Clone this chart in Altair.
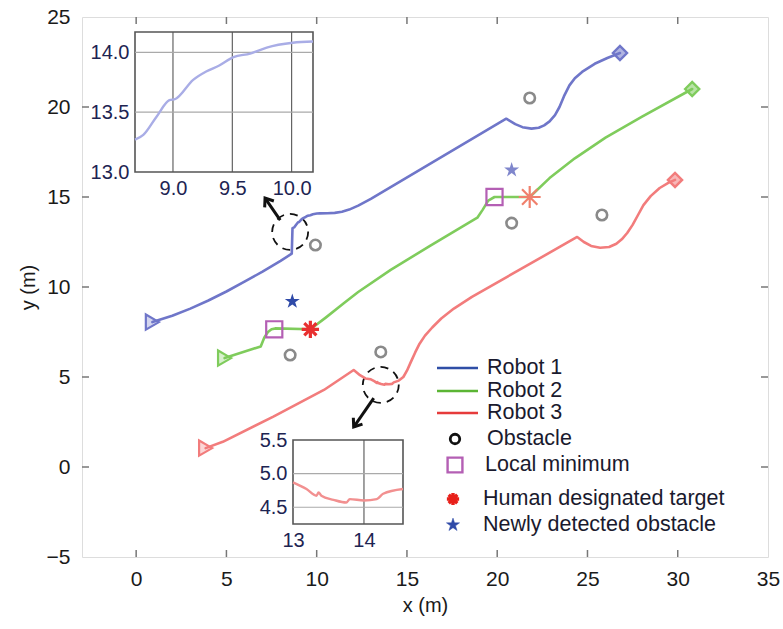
import math
import altair as alt
import pandas as pd

# ---------------- data ----------------
X_DOMAIN = [-3, 35]
Y_DOMAIN = [-5, 25]
X_TICKS = [0, 5, 10, 15, 20, 25, 30, 35]
Y_TICKS = [-5, 0, 5, 10, 15, 20, 25]

ROBOTS = ["Robot 1", "Robot 2", "Robot 3"]

R1_X = [0.9, 2.0, 3.0, 4.0, 5.0, 6.0, 7.0, 8.0, 8.62, 8.66, 8.75, 8.86, 8.97, 9.02, 9.17,
        9.28, 9.39, 9.51, 9.65, 9.79, 10.01, 10.18, 10.6, 11.0, 11.4, 11.8, 12.3, 13.0, 20.5,
        21.0, 21.4, 21.9, 22.3, 22.6, 22.9, 23.2, 23.45, 23.7, 24.0, 24.3, 24.7, 25.4, 26.1, 26.8]
R1_Y = [8.05, 8.4, 8.8, 9.25, 9.75, 10.3, 10.85, 11.45, 11.85, 13.27, 13.31, 13.46, 13.6, 13.61, 13.77,
        13.84, 13.89, 13.96, 13.99, 14.04, 14.08, 14.09, 14.1, 14.12, 14.18, 14.3, 14.52, 14.9, 19.35,
        19.05, 18.88, 18.8, 18.85, 18.98, 19.2, 19.55, 20.0, 20.6, 21.2, 21.6, 21.95, 22.4, 22.72, 23.0]

R2_X = [4.9, 6.9, 7.1, 7.3, 7.5, 7.7, 9.65, 10.5, 11.5, 12.3, 14.1, 16.3, 18.9, 19.2, 19.5, 19.85,
        21.8, 22.9, 24.3, 26.0, 28.0, 30.8]
R2_Y = [6.05, 6.7, 7.2, 7.5, 7.65, 7.7, 7.65, 8.3, 9.1, 9.72, 10.95, 12.3, 13.85, 14.3, 14.8, 15.0,
        15.0, 16.05, 17.15, 18.3, 19.45, 21.0]

R3_X = [3.85, 4.8, 7.6, 10.4, 12.05, 12.4, 12.7, 13.0, 13.19, 13.33, 13.36, 13.4, 13.57, 13.75, 13.8,
        14.0, 14.18, 14.27, 14.55, 14.8, 15.0, 15.2, 15.45, 15.7, 16.0, 16.4, 16.9, 17.6, 18.6, 24.43,
        24.8, 25.2, 25.7, 26.2, 26.6, 26.9, 27.2, 27.5, 27.8, 28.1, 28.5, 29.0, 29.5, 29.85]
R3_Y = [1.05, 1.4, 2.8, 4.28, 5.39, 5.1, 4.92, 4.87, 4.77, 4.67, 4.72, 4.67, 4.61, 4.57, 4.62,
        4.6, 4.62, 4.7, 4.8, 5.0, 5.35, 5.8, 6.35, 6.85, 7.3, 7.75, 8.25, 8.8, 9.45, 12.78,
        12.5, 12.28, 12.18, 12.22, 12.4, 12.65, 13.0, 13.45, 14.0, 14.55, 15.05, 15.5, 15.8, 15.95]

START_X = [0.9, 4.9, 3.85]
START_Y = [8.05, 6.05, 1.05]
END_X = [26.8, 30.8, 29.85]
END_Y = [23.0, 21.0, 15.95]

OBST_X = [9.93, 8.53, 13.55, 20.8, 21.8, 25.8]
OBST_Y = [12.33, 6.22, 6.39, 13.55, 20.5, 14.0]

LOCMIN_X = [7.65, 19.85]
LOCMIN_Y = [7.65, 15.0]

TARGET_X = [9.65, 21.8]
TARGET_Y = [7.65, 15.0]

NEWOBS_X = [8.65, 20.8]
NEWOBS_Y = [9.2, 16.5]

ZOOM_X = [8.53, 13.55]
ZOOM_Y = [13.06, 4.56]
ARROW_TAIL_X = [7.98, 13.16]
ARROW_TAIL_Y = [13.72, 3.83]
ARROW_HEAD_X = [7.14, 12.05]
ARROW_HEAD_Y = [14.94, 2.22]

# inset 1 (robot 1 detail)
IN1_XDOM = [8.68, 10.18]
IN1_YDOM = [13.0, 14.17]
IN1_XTICKS = [9.0, 9.5, 10.0]
IN1_YTICKS = [13.0, 13.5, 14.0]
IN1_X = [8.68, 8.75, 8.86, 8.97, 9.02, 9.17, 9.28, 9.39, 9.51, 9.65, 9.79, 10.01, 10.18]
IN1_Y = [13.27, 13.31, 13.46, 13.6, 13.61, 13.77, 13.84, 13.89, 13.96, 13.99, 14.04, 14.08, 14.09]

# inset 2 (robot 3 detail)
IN2_XDOM = [13.0, 14.55]
IN2_YDOM = [4.25, 5.5]
IN2_XTICKS = [13, 14]
IN2_YTICKS = [4.5, 5.0, 5.5]
IN2_X = [13.0, 13.19, 13.33, 13.36, 13.4, 13.57, 13.75, 13.8, 14.0, 14.18, 14.27, 14.55]
IN2_Y = [4.87, 4.77, 4.67, 4.72, 4.67, 4.61, 4.57, 4.62, 4.6, 4.62, 4.7, 4.77]

LEGEND_LABELS = ["Robot 1", "Robot 2", "Robot 3", "Obstacle", "Local minimum",
                 "Human designated target", "Newly detected obstacle"]

# ---------------- styles ----------------
W, H = 686, 540
FONT = "Liberation Sans"
LINE_COLORS = ["#6f76c9", "#7fcc5c", "#f27c7c"]
END_COLORS = ["#3d55b0", "#66be3c", "#e8404a"]
LEG_COLORS = ["#2f4ea6", "#5bb534", "#e63b3b"]
GRAY = "#8a8a8a"
PURPLE = "#b45fb4"

STAR = ("M0,-1L0.2245,-0.309L0.951,-0.309L0.363,0.118L0.588,0.809L0,0.382"
        "L-0.588,0.809L-0.363,0.118L-0.951,-0.309L-0.2245,-0.309Z")
ASTER = "M0,-1L0,1M-1,0L1,0M-0.7,-0.7L0.7,0.7M-0.7,0.7L0.7,-0.7"
CHEVRON = "M-0.75,1L0,0L0.75,1"

xs = alt.Scale(domain=X_DOMAIN, nice=False, zero=False)
ys = alt.Scale(domain=Y_DOMAIN, nice=False, zero=False)
x_axis = alt.Axis(values=X_TICKS, title="x (m)", grid=False, ticks=False, domain=False,
                  labelFontSize=21, labelPadding=11, titleFontSize=20, titlePadding=6,
                  titleFontWeight="normal", labelColor="#1a1a1a", titleColor="#1a1a1a", labelFont=FONT,
                  titleFont=FONT, labelFlush=False, labelOverlap=False)
y_axis = alt.Axis(values=Y_TICKS, title="y (m)", grid=False, ticks=False, domain=False,
                  labelFontSize=21, labelPadding=12, titleFontSize=20, titlePadding=8,
                  titleFontWeight="normal", labelColor="#1a1a1a", titleColor="#1a1a1a", labelFont=FONT,
                  titleFont=FONT, labelFlush=False, labelOverlap=False)


def X(field="x"):
    return alt.X(f"{field}:Q", scale=xs, axis=x_axis)


def Y(field="y"):
    return alt.Y(f"{field}:Q", scale=ys, axis=y_axis)


rows = []
for name, xx, yy in zip(ROBOTS, [R1_X, R2_X, R3_X], [R1_Y, R2_Y, R3_Y]):
    for i, (a, b) in enumerate(zip(xx, yy)):
        rows.append({"robot": name, "order": i, "x": a, "y": b})
traj = pd.DataFrame(rows)
robot_color = alt.Scale(domain=ROBOTS, range=LINE_COLORS)

lines = alt.Chart(traj).mark_line(strokeWidth=2.6, interpolate="linear",
                                  strokeJoin="round", strokeCap="round").encode(
    x=X(), y=Y(), color=alt.Color("robot:N", scale=robot_color, legend=None), order="order:Q")

starts = alt.Chart(pd.DataFrame({"robot": ROBOTS, "x": START_X, "y": START_Y})).mark_point(
    shape="triangle-right", size=230, filled=False, strokeWidth=2.2, opacity=1, fillOpacity=0.3).encode(
    x=X(), y=Y(), stroke=alt.Stroke("robot:N", scale=robot_color, legend=None),
    fill=alt.Fill("robot:N", scale=robot_color, legend=None))

end_scale = alt.Scale(domain=ROBOTS, range=END_COLORS)
ends = alt.Chart(pd.DataFrame({"robot": ROBOTS, "x": END_X, "y": END_Y})).mark_point(
    shape="diamond", size=200, filled=False, strokeWidth=2.4, opacity=1, fillOpacity=0.55).encode(
    x=X(), y=Y(), stroke=alt.Stroke("robot:N", scale=end_scale, legend=None),
    fill=alt.Fill("robot:N", scale=end_scale, legend=None))

obst = alt.Chart(pd.DataFrame({"x": OBST_X, "y": OBST_Y})).mark_point(
    shape="circle", size=110, filled=False, stroke=GRAY, strokeWidth=2.6, opacity=1).encode(x=X(), y=Y())

locmin = alt.Chart(pd.DataFrame({"x": LOCMIN_X, "y": LOCMIN_Y})).mark_point(
    shape="square", size=260, filled=False, stroke=PURPLE, strokeWidth=2.2, opacity=1).encode(x=X(), y=Y())

targ_df = pd.DataFrame({"x": TARGET_X, "y": TARGET_Y, "c": ["#e83030", "#f0806c"],
                        "s": [300, 480], "w": [3.2, 2.2]})
targets = alt.Chart(targ_df).mark_point(shape=ASTER, filled=False, opacity=1).encode(
    x=X(), y=Y(), stroke=alt.Stroke("c:N", scale=None), size=alt.Size("s:Q", scale=None),
    strokeWidth=alt.StrokeWidth("w:Q", scale=None))

newobs = alt.Chart(pd.DataFrame({"x": NEWOBS_X, "y": NEWOBS_Y, "c": ["#2f4aa8", "#7f86cc"]})).mark_point(
    shape=STAR, size=250, filled=True, opacity=1, strokeWidth=0).encode(
    x=X(), y=Y(), fill=alt.Fill("c:N", scale=None))

zooms = alt.Chart(pd.DataFrame({"x": ZOOM_X, "y": ZOOM_Y})).mark_point(
    shape="circle", size=36 * 36, filled=False, stroke="#111", strokeWidth=1.8,
    strokeDash=[8, 6], opacity=1).encode(x=X(), y=Y())

arr_rows = []
kx = W / (X_DOMAIN[1] - X_DOMAIN[0])
ky = H / (Y_DOMAIN[1] - Y_DOMAIN[0])
for i in range(2):
    dx = (ARROW_HEAD_X[i] - ARROW_TAIL_X[i]) * kx
    dy = -(ARROW_HEAD_Y[i] - ARROW_TAIL_Y[i]) * ky
    ang = (math.degrees(math.atan2(dx, -dy)) + 360) % 360
    arr_rows.append({"id": i, "k": 0, "x": ARROW_TAIL_X[i], "y": ARROW_TAIL_Y[i], "a": ang})
    arr_rows.append({"id": i, "k": 1, "x": ARROW_HEAD_X[i], "y": ARROW_HEAD_Y[i], "a": ang})
arr_df = pd.DataFrame(arr_rows)
shafts = alt.Chart(arr_df).mark_line(stroke="#111", strokeWidth=3).encode(
    x=X(), y=Y(), detail="id:N", order="k:Q")
heads = alt.Chart(arr_df[arr_df.k == 1]).mark_point(
    shape=CHEVRON, size=220, filled=False, stroke="#111", strokeWidth=3, opacity=1).encode(
    x=X(), y=Y(), angle=alt.Angle("a:Q", scale=None))

# inward ticks on all four sides
tick_x = pd.DataFrame({"x": X_TICKS[:-1]})
tick_y = pd.DataFrame({"y": Y_TICKS[1:-1]})
tb = alt.Chart(tick_x).mark_rule(stroke="#777", strokeWidth=1.5).encode(
    x=X(), y=alt.value(H), y2=alt.value(H - 7))
tt = alt.Chart(tick_x).mark_rule(stroke="#777", strokeWidth=1.5).encode(
    x=X(), y=alt.value(0), y2=alt.value(7))
tl = alt.Chart(tick_y).mark_rule(stroke="#777", strokeWidth=1.5).encode(
    y=Y(), x=alt.value(0), x2=alt.value(7))
tr = alt.Chart(tick_y).mark_rule(stroke="#777", strokeWidth=1.5).encode(
    y=Y(), x=alt.value(W), x2=alt.value(W - 7))

main = alt.layer(tb, tt, tl, tr, zooms, shafts, heads, lines, starts, ends, obst, locmin,
                 targets, newobs)


# ---------------- insets ----------------
def inset(xdom, ydom, xrange, yrange, xticks, yticks, vgrid, hgrid, xfmt, yfmt, lx, ly, color):
    xsc = alt.Scale(domain=xdom, range=xrange, nice=False, zero=False)
    ysc = alt.Scale(domain=ydom, range=yrange, nice=False, zero=False)
    xax = alt.Axis(orient="bottom", offset=yrange[0] - H, values=xticks, format=xfmt, ticks=False,
                   domain=False, grid=False, labelFontSize=20, labelPadding=6, title=None,
                   labelColor="#1d2452", labelFont=FONT, labelFlush=False, labelOverlap=False)
    yax = alt.Axis(orient="left", offset=-xrange[0], values=yticks, format=yfmt, ticks=False,
                   domain=False, grid=False, labelFontSize=20, labelPadding=6, title=None,
                   labelColor="#1d2452", labelFont=FONT, labelFlush=False, labelOverlap=False)
    fr = pd.DataFrame({"x": [xdom[0]], "x2": [xdom[1]], "y": [ydom[0]], "y2": [ydom[1]]})
    frame = alt.Chart(fr).mark_rect(fill="white", stroke="#555", strokeWidth=1.6).encode(
        x=alt.X("x:Q", scale=xsc, axis=xax), x2="x2:Q",
        y=alt.Y("y:Q", scale=ysc, axis=yax), y2="y2:Q")
    vg = alt.Chart(pd.DataFrame({"x": vgrid})).mark_rule(stroke="#555", strokeWidth=1.1).encode(
        x=alt.X("x:Q", scale=xsc, axis=xax), y=alt.datum(ydom[0]), y2=alt.datum(ydom[1]))
    hg = alt.Chart(pd.DataFrame({"y": hgrid})).mark_rule(stroke="#aaa", strokeWidth=1.1).encode(
        y=alt.Y("y:Q", scale=ysc, axis=yax), x=alt.datum(xdom[0]), x2=alt.datum(xdom[1]))
    ln = alt.Chart(pd.DataFrame({"x": lx, "y": ly, "o": list(range(len(lx)))})).mark_line(
        stroke=color, strokeWidth=2.4, interpolate="monotone").encode(
        x=alt.X("x:Q", scale=xsc, axis=xax), y=alt.Y("y:Q", scale=ysc, axis=yax), order="o:Q")
    return alt.layer(frame, vg, hg, ln)


inset1 = inset(IN1_XDOM, IN1_YDOM, [53, 231], [155, 15], IN1_XTICKS, IN1_YTICKS,
               IN1_XTICKS, [13.5, 14.0], ".1f", ".1f", IN1_X, IN1_Y, "#a9ade6")
inset2 = inset(IN2_XDOM, IN2_YDOM, [211, 321], [507, 423], IN2_XTICKS, IN2_YTICKS,
               [14], [4.5, 5.0], "d", ".1f", IN2_X, IN2_Y, "#f29090")

# ---------------- legend ----------------
LX0 = 355
leg_rows = [351, 374, 396, 422, 448, 482, 508]
leg_text = pd.DataFrame({"t": LEGEND_LABELS, "px": [405, 405, 405, 405, 403, 401, 401], "py": leg_rows})
leg_txt = alt.Chart(leg_text).mark_text(align="left", baseline="middle", fontSize=21.5, font=FONT,
                                        color="#1a1a2e").encode(
    x=alt.X("px:Q", scale=None), y=alt.Y("py:Q", scale=None), text="t:N")
leg_line_df = pd.DataFrame({"px": [LX0] * 3, "px2": [LX0 + 41] * 3, "py": leg_rows[:3], "c": LEG_COLORS})
leg_lines = alt.Chart(leg_line_df).mark_rule(strokeWidth=2.6).encode(
    x=alt.X("px:Q", scale=None), x2="px2:Q", y=alt.Y("py:Q", scale=None),
    stroke=alt.Stroke("c:N", scale=None))
leg_sym_df = pd.DataFrame({
    "px": [373, 373, 371, 371], "py": leg_rows[3:],
    "shape": ["circle", "square", ASTER, STAR],
    "stroke": ["#111", PURPLE, "#e8201a", "#2f4aa8"],
    "fill": ["transparent", "transparent", "transparent", "#2f4aa8"],
    "sw": [2.8, 2.4, 3.4, 0.5],
    "size": [90, 220, 150, 190],
})
leg_syms = alt.Chart(leg_sym_df).mark_point(opacity=1).encode(
    x=alt.X("px:Q", scale=None), y=alt.Y("py:Q", scale=None),
    shape=alt.Shape("shape:N", scale=None), stroke=alt.Stroke("stroke:N", scale=None),
    fill=alt.Fill("fill:N", scale=None), strokeWidth=alt.StrokeWidth("sw:Q", scale=None),
    size=alt.Size("size:Q", scale=None))
legend = alt.layer(leg_lines, leg_syms, leg_txt)

chart = alt.layer(main, inset1, inset2, legend).resolve_scale(
    x="independent", y="independent", color="independent", stroke="independent",
    fill="independent", shape="independent", size="independent", strokeWidth="independent",
    angle="independent").properties(
    width=W, height=H,
    autosize=alt.AutoSizeParams(type="none"),
    padding={"left": 82, "top": 17, "right": 15, "bottom": 72},
).configure_view(stroke="#8c8c8c", strokeWidth=2).configure(background="white")

chart.save("out.html", embed_options={"renderer": "svg", "actions": False})
